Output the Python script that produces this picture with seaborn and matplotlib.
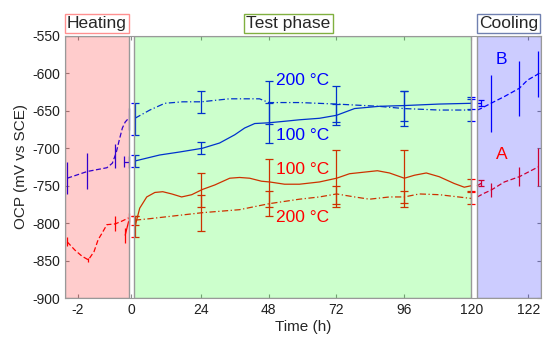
import numpy as np
import pandas as pd
import matplotlib
matplotlib.use("Agg")
import matplotlib.pyplot as plt
import seaborn as sns

# --- heating phase (h before test start) ---
heat_b200_t = [-2.41, -1.63, -0.87, -0.66, -0.51, -0.39, -0.27, -0.16, -0.03]
heat_b200_v = [-740, -731, -726, -720, -706, -689, -673, -665, -660]
heat_b200_et = [-2.41, -1.63, -0.55, -0.03]
heat_b200_ev = [-740, -731, -710, -661]
heat_b200_e = [21, 24, 16, 15]

heat_a200_t = [-2.41, -2.11, -1.84, -1.59, -1.37, -1.21, -1.07, -0.87, -0.55, -0.27, -0.03]
heat_a200_v = [-825, -836, -844, -849, -838, -822, -814, -802, -801, -797, -793]
heat_a200_et = [-2.41, -1.59, -0.55, -0.03]
heat_a200_ev = [-825, -849, -801, -793]
heat_a200_e = [6, 3, 10, 6]

heat_b100_t = [-0.20, -0.03]
heat_b100_v = [-718, -718]
heat_b100_e = [7, 8]

heat_a100_t = [-0.16, -0.03]
heat_a100_v = [-816, -798]
heat_a100_e = [10, 6]

# --- test phase ---
test_et = [0.4, 24, 48, 72, 96, 120]

test_b200_t = [0.4, 5.7, 11, 17.4, 24, 34, 44.7, 48, 59, 72, 87, 96, 108.6, 120]
test_b200_v = [-660, -649, -640, -638, -638, -634, -634, -639, -639, -641, -644, -647, -649, -649]
test_b200_ev = [-661, -638, -639, -641, -647, -649]
test_b200_e = [21, 15, 29, 24, 23, 15]

test_b100_t = [0.4, 9.2, 16.3, 24.4, 30.5, 35.9, 39.4, 43, 48.1, 53.6, 58.9, 66, 72.1,
               78.5, 87.3, 96.2, 108.6, 120]
test_b100_v = [-717, -709, -705, -700, -693, -682, -673, -667, -666, -664, -662, -660, -656,
               -647, -644, -643, -641, -640]
test_b100_ev = [-717, -700, -666, -655, -643, -640]
test_b100_e = [8, 8, 27, 14, 20, 8]

test_a100_t = [0.4, 2.1, 4.6, 7.5, 10.3, 13.5, 17, 20.6, 24.4, 28.8, 34.1, 37.6, 41.2, 45.4,
               48.3, 53.6, 58.9, 66, 72.1, 76.7, 86.6, 90.9, 96.2, 99.8, 104, 108.6, 113.9,
               117.5, 120]
test_a100_v = [-805, -780, -765, -759, -758, -761, -765, -762, -755, -749, -740, -739, -740,
               -744, -745, -748, -748, -745, -740, -734, -730, -733, -740, -736, -733, -738,
               -747, -752, -750]
test_a100_ev = [-805, -756, -746, -741, -740, -750]
test_a100_e = [14, 23, 32, 38, 38, 9]

test_a200_t = [0.4, 5.7, 24.4, 37.6, 48.1, 58.9, 66, 72.1, 78.5, 83.8, 90.9, 96.2, 101.5, 108.6, 120]
test_a200_v = [-796, -794, -786, -782, -774, -768, -765, -761, -765, -768, -765, -765, -761, -762, -767]
test_a200_ev = [-796, -787, -774, -762, -765, -766]
test_a200_e = [6, 24, 17, 12, 8, 9]

# --- cooling phase ---
cool_b200_t = [120.02, 120.16, 120.55, 121.07, 121.65, 121.97, 122.38]
cool_b200_v = [-649, -647, -640, -631, -620, -609, -601]
cool_et = [120.55, 121.65, 122.38]
cool_b200_ev = [-640, -620, -601]
cool_b200_e = [38, 37, 31]

cool_a200_t = [120.02, 120.29, 120.55, 121.07, 121.65, 122.38]
cool_a200_v = [-765, -760, -756, -745, -738, -725]
cool_a200_ev = [-756, -738, -725]
cool_a200_e = [9, 13, 25]

cool_b100_t = [120.02, 120.16]
cool_b100_v = [-640, -640]
cool_a100_t = [120.02, 120.16]
cool_a100_v = [-750, -747]

xticks = [-2, -0.01, 24, 48, 72, 96, 120, 122]
xticklabels = ["-2", "0", "24", "48", "72", "96", "120", "122"]

# piecewise time axis: expanded heating / cooling, compressed test phase
brk_t = np.array([-1000, -2.5, -0.02, 0, 120, 120.02, 122.5, 1000])
brk_p = np.array([65 - 997.5 * 25.8, 65, 129, 134, 472, 478, 542, 542 + 877.5 * 25.8])


def fwd(t):
    return np.interp(t, brk_t, brk_p)


def inv(p):
    return np.interp(p, brk_p, brk_t)


sns.set_theme(style="ticks")
plt.rcParams["font.family"] = ["Liberation Sans", "DejaVu Sans"]
plt.rcParams["axes.unicode_minus"] = False

fig = plt.figure(figsize=(5.5, 3.45), dpi=100)
ax = fig.add_axes([0.118, 0.136, 0.866, 0.760])
ax.set_xscale("function", functions=(fwd, inv))

lw = 0.9
dash = (0, (4, 2))
dashdot = (0, (5, 2, 1, 2))


def curve(t, v, col, ls):
    sns.lineplot(x=t, y=v, color=col, linestyle=ls, linewidth=lw, ax=ax, zorder=2)


def bars(t, v, e, col, cap):
    ax.errorbar(t, v, yerr=e, fmt="none", ecolor=col, elinewidth=lw, capsize=cap,
                capthick=lw, zorder=2)


# heating
curve(heat_b200_t, heat_b200_v, "blue", dash)
bars(heat_b200_et, heat_b200_ev, heat_b200_e, "blue", 0)
curve(heat_a200_t, heat_a200_v, "red", dash)
bars(heat_a200_et, heat_a200_ev, heat_a200_e, "red", 0)
curve(heat_b100_t, heat_b100_v, "blue", "-")
bars(heat_b100_t, heat_b100_v, heat_b100_e, "blue", 0)
curve(heat_a100_t, heat_a100_v, "red", "-")
bars(heat_a100_t, heat_a100_v, heat_a100_e, "red", 0)

# test
curve(test_b200_t, test_b200_v, "blue", dashdot)
bars(test_et, test_b200_ev, test_b200_e, "blue", 3)
curve(test_b100_t, test_b100_v, "blue", "-")
bars(test_et, test_b100_ev, test_b100_e, "blue", 3)
curve(test_a100_t, test_a100_v, "red", "-")
bars(test_et, test_a100_ev, test_a100_e, "red", 3)
curve(test_a200_t, test_a200_v, "red", dashdot)
bars(test_et, test_a200_ev, test_a200_e, "red", 3)

# cooling
curve(cool_b200_t, cool_b200_v, "blue", dash)
bars(cool_et, cool_b200_ev, cool_b200_e, "blue", 0)
curve(cool_a200_t, cool_a200_v, "red", dash)
bars(cool_et, cool_a200_ev, cool_a200_e, "red", 0)
curve(cool_b100_t, cool_b100_v, "blue", "-")
bars(cool_b100_t[1:], cool_b100_v[1:], [4], "blue", 2)
curve(cool_a100_t, cool_a100_v, "red", "-")
bars(cool_a100_t[1:], cool_a100_v[1:], [4], "red", 2)

# phase shading on top of the curves
ax.axvspan(-2.5, -0.02, facecolor=(1, 0, 0, 0.2), edgecolor="0.6", lw=1, zorder=3)
ax.axvspan(0, 120, facecolor=(0, 1, 0, 0.2), edgecolor="0.6", lw=1, zorder=3)
ax.axvspan(120.02, 122.5, facecolor=(0, 0, 1, 0.2), edgecolor="0.6", lw=1, zorder=3)

# labels
fs = 12.5
ax.text(60, -610, "200 °C", color="blue", fontsize=fs, ha="center", va="center", zorder=5)
ax.text(60, -683, "100 °C", color="blue", fontsize=fs, ha="center", va="center", zorder=5)
ax.text(60, -729, "100 °C", color="red", fontsize=fs, ha="center", va="center", zorder=5)
ax.text(60, -792, "200 °C", color="red", fontsize=fs, ha="center", va="center", zorder=5)
ax.text(120.96, -582, "B", color="blue", fontsize=fs, ha="center", va="center", zorder=5)
ax.text(120.96, -709, "A", color="red", fontsize=fs, ha="center", va="center", zorder=5)

tr = ax.get_xaxis_transform()
for xc, lab, ec in [(-1.26, "Heating", "#ff9090"), (55, "Test phase", "#80b040"),
                    (121.24, "Cooling", "#7080b0")]:
    ax.text(xc, 1.048, lab, transform=tr, fontsize=12.5, ha="center", va="center",
            bbox=dict(boxstyle="square,pad=0.12", fc="white", ec=ec, lw=1), zorder=5)

ax.set_xlim(-2.5, 122.5)
ax.set_ylim(-900, -550)
ax.set_yticks(np.arange(-900, -549, 50))
ax.set_xticks(xticks)
ax.set_xticklabels(xticklabels)
ax.minorticks_off()
ax.tick_params(direction="in", top=True, right=True, length=3, width=0.8,
               color="0.55", labelsize=10, labelcolor="#202020")
for s in ax.spines.values():
    s.set_color("0.6")
    s.set_linewidth(0.8)
ax.set_xlabel("Time (h)", fontsize=11, labelpad=2)
ax.set_ylabel("OCP (mV vs SCE)", fontsize=11, labelpad=3)

fig.savefig("out.png", dpi=100)
